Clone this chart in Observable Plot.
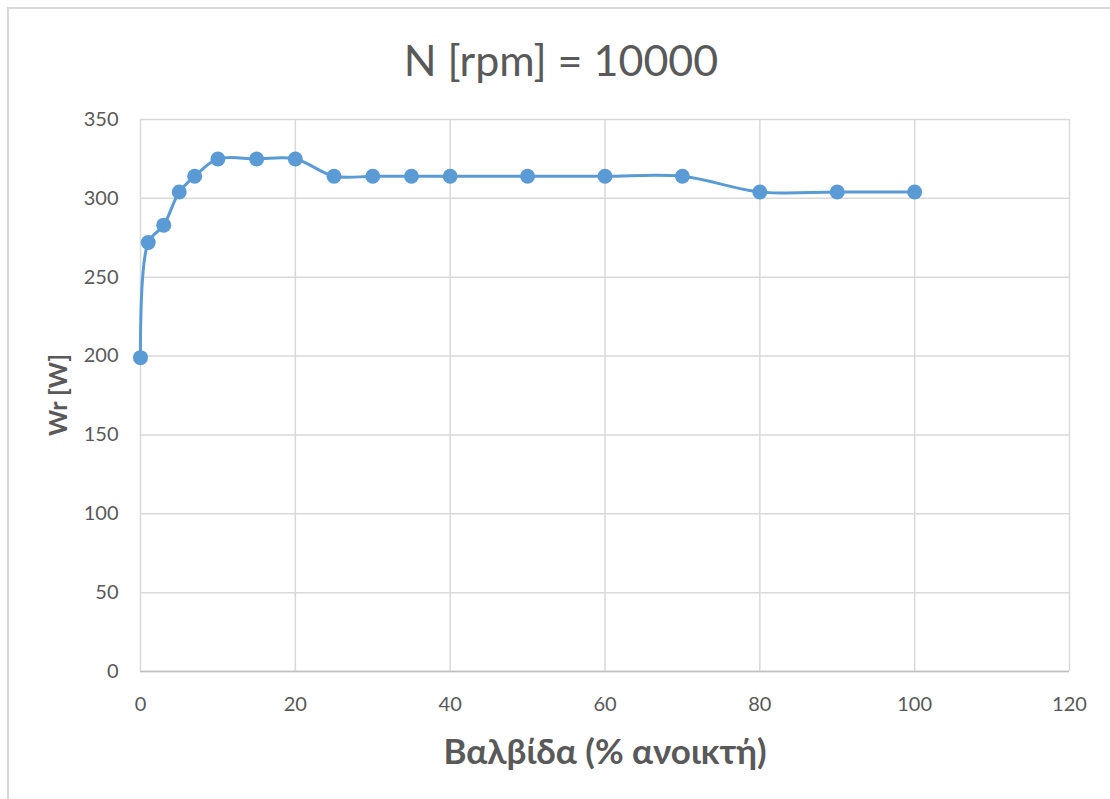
<!DOCTYPE html>
<html>
<head>
<meta charset="utf-8">
<script src="https://cdn.jsdelivr.net/npm/d3@7"></script>
<script src="https://cdn.jsdelivr.net/npm/@observablehq/plot@0.6"></script>
<style>
  html, body { margin: 0; padding: 0; background: #fff; }
  #wrap { position: relative; width: 1110px; height: 799px; overflow: hidden; font-family: Lato, "Open Sans", sans-serif; }
  #frame { position: absolute; left: 7px; top: 7px; width: 1200px; height: 900px; border-left: 2px solid #d9d9d9; border-top: 2px solid #d9d9d9; box-sizing: border-box; }
  #title { position: absolute; left: 0; width: 1122px; top: 34px; line-height: 52px; text-align: center; font-size: 43px; color: #595959; }
  #xlabel { position: absolute; left: 0; width: 1210px; top: 729px; line-height: 42px; text-align: center; font-size: 35px; font-weight: bold; color: #595959; }
  #ylabel { position: absolute; left: 57px; top: 395px; transform: translate(-50%, -50%) rotate(-90deg); font-size: 25px; font-weight: bold; color: #595959; white-space: nowrap; }
  #chart { position: absolute; left: 0; top: 0; }
</style>
</head>
<body>
<div id="wrap">
  <div id="frame"></div>
  <div id="chart"></div>
  <div id="title">N [rpm] = 10000</div>
  <div id="xlabel">Βαλβίδα (% ανοικτή)</div>
  <div id="ylabel">Wr [W]</div>
</div>
<script>
const valve = [0, 1, 3, 5, 7, 10, 15, 20, 25, 30, 35, 40, 50, 60, 70, 80, 90, 100];
const power = [199, 272, 283, 304, 314, 325, 325, 325, 314, 314, 314, 314, 314, 314, 314, 304, 304, 304];
const xTicks = [0, 20, 40, 60, 80, 100, 120];
const yTicks = [0, 50, 100, 150, 200, 250, 300, 350];

const data = valve.map((v, i) => ({x: v, y: power[i]}));

const chart = Plot.plot({
  width: 1110,
  height: 799,
  marginLeft: 140,
  marginRight: 41,
  marginTop: 119,
  marginBottom: 128,
  style: {fontFamily: "Lato, 'Open Sans', sans-serif", fontSize: "20px", color: "#595959", background: "transparent"},
  x: {domain: [0, 120], ticks: xTicks, label: null},
  y: {domain: [0, 350], ticks: yTicks, label: null},
  marks: [
    Plot.gridX(xTicks, {stroke: "#d9d9d9", strokeOpacity: 1, strokeWidth: 1.5}),
    Plot.gridY(yTicks, {stroke: "#d9d9d9", strokeOpacity: 1, strokeWidth: 1.5}),
    Plot.ruleY([0], {stroke: "#bfbfbf", strokeWidth: 1.5}),
    Plot.axisX(xTicks, {tickSize: 0, tickPadding: 25, fontSize: 20, fill: "#595959"}),
    Plot.axisY(yTicks, {tickSize: 0, tickPadding: 22, fontSize: 20, fill: "#595959"}),
    Plot.line(data, {x: "x", y: "y", stroke: "#5b9bd5", strokeWidth: 3, curve: "catmull-rom"}),
    Plot.dot(data, {x: "x", y: "y", r: 7.5, fill: "#5b9bd5", stroke: "none"})
  ]
});
document.getElementById("chart").appendChild(chart);
</script>
</body>
</html>
